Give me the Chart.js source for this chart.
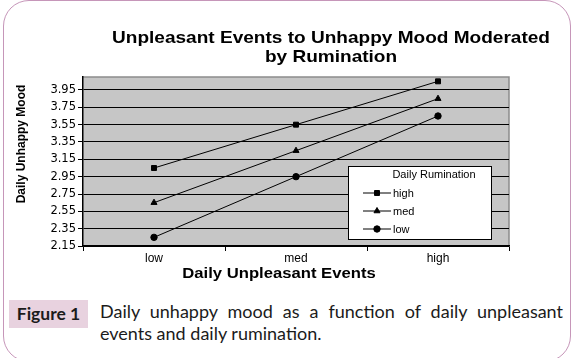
<!DOCTYPE html>
<html>
<head>
<meta charset="utf-8">
<script src="https://cdn.jsdelivr.net/npm/chart.js@4"></script>
<style>
  html, body { margin: 0; padding: 0; background: #fff; }
  body { width: 573px; height: 358px; position: relative; overflow: hidden; }
  #frame { position: absolute; left: 3px; top: 0px; width: 566px; height: 360px;
           border: 1.5px solid #c696b9; border-radius: 26px; }
  #cv { position: absolute; left: 0; top: 0; }
  #figlabel { position: absolute; left: 9px; top: 300px; width: 79px; height: 28px;
              background: #e8d2df; font-family: Lato, "Open Sans", sans-serif; font-weight: bold;
              font-size: 17.5px; color: #1b1b1b; line-height: 28px; text-align: center; }
  #cap1, #cap2 { position: absolute; left: 100px; width: 463px; font-family: Lato, "Open Sans", sans-serif;
                 font-size: 18px; color: #1b1b1b; line-height: 22px; white-space: nowrap; }
  #cap1 { top: 300px; text-align: justify; text-align-last: justify; white-space: normal; }
  #cap2 { top: 322px; }
</style>
</head>
<body>
<div id="frame"></div>
<canvas id="cv" width="573" height="290"></canvas>
<div id="figlabel">Figure 1</div>
<div id="cap1">Daily unhappy mood as a function of daily unpleasant</div>
<div id="cap2">events and daily rumination.</div>
<script>
const categories = ['low', 'med', 'high'];
const highRumination = [3.05, 3.55, 4.05];
const medRumination = [2.65, 3.25, 3.85];
const lowRumination = [2.25, 2.95, 3.65];
const seriesLabels = ['high', 'med', 'low'];
const yTicks = [2.15, 2.35, 2.55, 2.75, 2.95, 3.15, 3.35, 3.55, 3.75, 3.95];
const chartTitle = ['Unpleasant Events to Unhappy Mood Moderated', 'by Rumination'];
const xTitle = 'Daily Unpleasant Events';
const yTitle = 'Daily Unhappy Mood';
const legendTitle = 'Daily Rumination';

const FONT = '"Liberation Sans", Arial, sans-serif';

function stretchText(ctx, text, x, y, sx) {
  ctx.save();
  ctx.translate(x, y);
  ctx.scale(sx, 1);
  ctx.fillText(text, 0, 0);
  ctx.restore();
}

const deco = {
  id: 'deco',
  beforeDraw(chart) {
    const { ctx, chartArea: a } = chart;
    ctx.save();
    ctx.fillStyle = '#c6c6c6';
    ctx.fillRect(a.left, a.top, a.width, a.height);
    ctx.strokeStyle = '#8c8c8c';
    ctx.lineWidth = 1.5;
    ctx.beginPath();
    ctx.moveTo(a.left, a.top);
    ctx.lineTo(a.right, a.top);
    ctx.lineTo(a.right, a.bottom);
    ctx.stroke();
    ctx.restore();
  },
  afterDraw(chart) {
    const { ctx, chartArea: a } = chart;
    ctx.save();
    ctx.fillStyle = '#000';
    ctx.textAlign = 'center';
    ctx.textBaseline = 'middle';
    // chart title
    ctx.font = 'bold 17px ' + FONT;
    stretchText(ctx, chartTitle[0], 331, 38, 1.12);
    stretchText(ctx, chartTitle[1], 331, 57, 1.12);
    // x axis title
    ctx.font = 'bold 15px ' + FONT;
    stretchText(ctx, xTitle, a.left + 196, a.bottom + 28, 1.11);
    // y axis title
    ctx.font = 'bold 12px ' + FONT;
    ctx.save();
    ctx.translate(22, a.top + 67);
    ctx.rotate(-Math.PI / 2);
    ctx.fillText(yTitle, 0, 0);
    ctx.restore();
    // legend box
    const bx = a.left + 265, by = a.top + 89, bw = 143, bh = 73;
    ctx.fillStyle = '#fff';
    ctx.fillRect(bx, by, bw, bh);
    ctx.strokeStyle = '#000';
    ctx.lineWidth = 1;
    ctx.strokeRect(bx + 0.5, by + 0.5, bw, bh);
    ctx.fillStyle = '#000';
    ctx.font = '11px ' + FONT;
    ctx.fillText(legendTitle, bx + 86, by + 9);
    ctx.textAlign = 'left';
    chart.data.datasets.forEach((ds, i) => {
      const y = by + 27 + i * 18;
      ctx.strokeStyle = '#000';
      ctx.lineWidth = 1;
      ctx.beginPath();
      ctx.moveTo(bx + 15, y);
      ctx.lineTo(bx + 43, y);
      ctx.stroke();
      ctx.fillStyle = '#000';
      Chart.helpers.drawPoint(ctx, { pointStyle: ds.pointStyle, radius: ds.pointRadius, borderWidth: 1, rotation: 0 }, bx + 29, y);
      ctx.fillStyle = '#000';
      ctx.fillText(ds.label, bx + 45, y + 0.5);
    });
    ctx.restore();
  }
};

const mk = (label, data, style, r) => ({
  label, data, pointStyle: style, pointRadius: r,
  borderColor: '#000', borderWidth: 1, backgroundColor: '#000',
  pointBackgroundColor: '#000', pointBorderColor: '#000', pointBorderWidth: 1,
  tension: 0, fill: false
});

new Chart(document.getElementById('cv'), {
  type: 'line',
  data: {
    labels: categories,
    datasets: [
      mk(seriesLabels[0], highRumination, 'rect', 3.5),
      mk(seriesLabels[1], medRumination, 'triangle', 3.5),
      mk(seriesLabels[2], lowRumination, 'circle', 3.2)
    ]
  },
  options: {
    responsive: false,
    animation: false,
    layout: { padding: { top: 77, right: 64, left: 0, bottom: 0 } },
    plugins: { legend: { display: false }, tooltip: { enabled: false }, title: { display: false } },
    scales: {
      x: {
        type: 'category',
        offset: true,
        afterFit: s => { s.height = 44; },
        grid: { offset: true, drawOnChartArea: false, drawTicks: true, tickLength: 5, color: '#000' },
        border: { color: '#000', width: 1.5 },
        ticks: { color: '#000', font: { family: FONT, size: 12 }, padding: 0 }
      },
      y: {
        min: 2.15, max: 4.1,
        afterBuildTicks: s => { s.ticks = yTicks.map(v => ({ value: v })); },
        afterFit: s => { s.width = 83; },
        grid: { color: '#000', lineWidth: 1, drawTicks: true, tickLength: 5 },
        border: { color: '#000', width: 1.5 },
        ticks: { color: '#000', font: { family: '"DejaVu Sans", sans-serif', size: 11.5 }, padding: 2, callback: v => Number(v).toFixed(2) }
      }
    }
  },
  plugins: [deco]
});
</script>
</body>
</html>
